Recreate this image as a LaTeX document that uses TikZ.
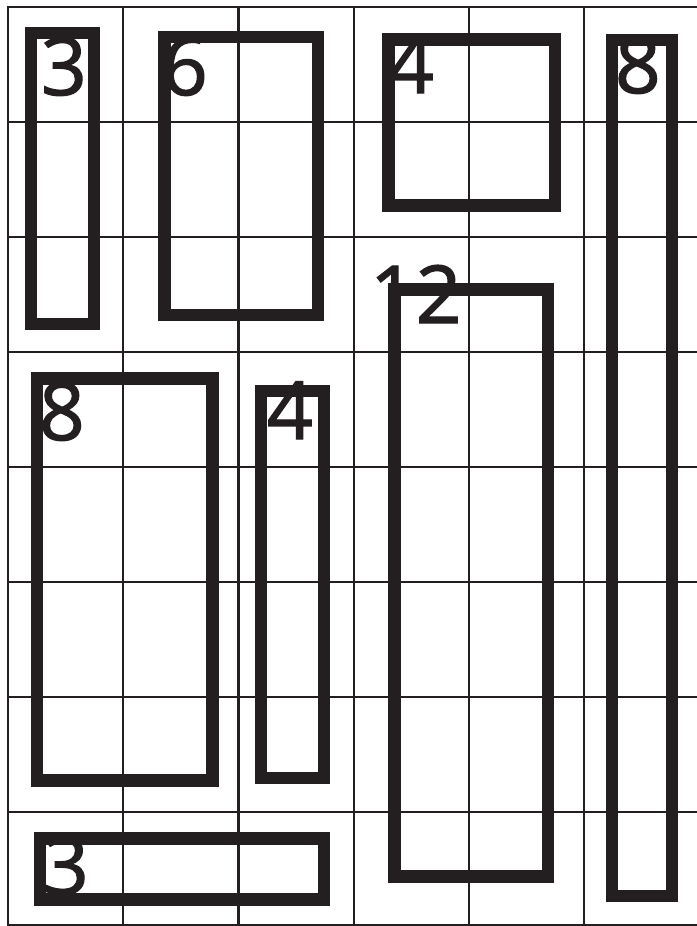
\documentclass[tikz,border=0pt]{standalone}
\usepackage{fontspec}
\setmainfont{Open Sans}
\newfontfamily\cluefont[FakeBold=1.6]{Open Sans}
\definecolor{ink}{HTML}{231F20}
\tikzset{
  gridline/.style={draw=ink, line width=2.2pt},
  cage/.style={draw=ink, line width=12.5pt, line join=miter},
  clue/.style={text=ink, anchor=base west, inner sep=0pt, outer sep=0pt, font=\cluefont\fontsize{80}{80}\selectfont}
}
\begin{document}
\begin{tikzpicture}[x=1pt,y=-1pt]
\useasboundingbox (0,0) rectangle (696,926);
\fill[white] (0,0) rectangle (696,926);
% grid
\foreach \gx in {8,123.2,238.4,353.6,468.8,584}
  \draw[gridline] (\gx,7) -- (\gx,925);
\foreach \gy in {7,122,237,352,467,582,697,812,925}
  \draw[gridline] (7,\gy) -- (697,\gy);
% cages
\draw[cage] (31,33) rectangle (94,324);
\draw[cage] (164.5,37) rectangle (318,315);
\draw[cage] (388.5,39.5) rectangle (555,205.5);
\draw[cage] (612,40) rectangle (672,896);
\draw[cage] (394.5,289.5) rectangle (548,876.5);
\draw[cage] (37,378.5) rectangle (212.5,780.5);
\draw[cage] (261,391) rectangle (324,778);
\draw[cage] (40,838.5) rectangle (324,899.5);
% clues
\node[clue] (c1) at (41,95) {3};
\node[clue] (c2) at (162,95) {6};
\node[clue] (c3) at (388,93) {4};
\node[clue] (c4) at (615,93) {8};
\node[clue] (c5) at (370,323) {12};
\node[clue] (c6) at (39,440) {8};
\node[clue] (c7) at (267,439) {4};
\node[clue] (c8) at (43,894) {3};
\end{tikzpicture}
\end{document}
